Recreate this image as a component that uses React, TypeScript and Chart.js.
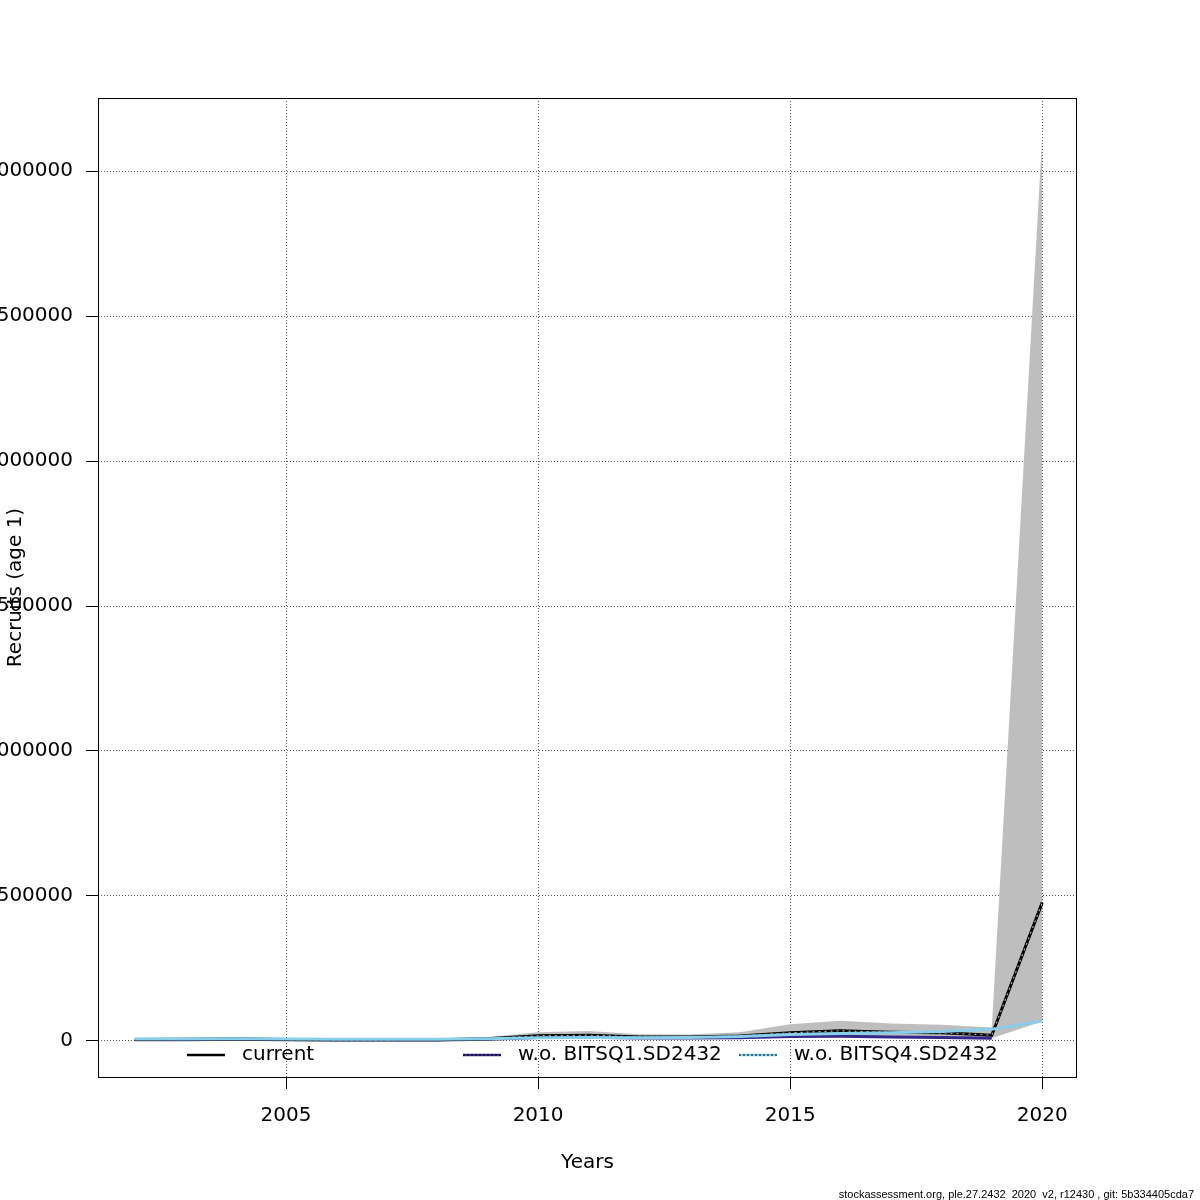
import React, { useEffect, useRef } from "react";
import { Chart, registerables } from "chart.js";

Chart.register(...registerables);

const years = [2002, 2003, 2004, 2005, 2006, 2007, 2008, 2009, 2010, 2011, 2012, 2013, 2014, 2015, 2016, 2017, 2018, 2019, 2020];
const current = [5000, 5500, 7000, 5000, 4000, 4000, 4500, 8000, 18000, 20000, 14000, 14000, 17000, 28000, 35000, 30000, 28000, 20000, 477000];
const lower = [3000, 3200, 3500, 3000, 2500, 2500, 2800, 4500, 10000, 11000, 8000, 8000, 9000, 13000, 16000, 14000, 13000, 9000, 67000];
const upper = [8000, 9000, 14000, 9000, 7000, 7000, 8000, 14000, 30000, 34000, 23000, 22000, 30000, 58000, 70000, 60000, 56000, 46000, 3120000];
const woBITSQ1 = [4000, 4500, 5500, 4000, 3500, 3500, 3500, 6000, 12000, 13000, 10000, 10000, 11000, 15000, 16000, 14000, 12000, 9000, null];
const woBITSQ4 = [7000, 7000, 8000, 7000, 6000, 6000, 6000, 8000, 11000, 12000, 11000, 12000, 15000, 22000, 26000, 28000, 33000, 40000, 69000];
const xTicks = [2005, 2010, 2015, 2020];
const yTicks = [0, 500000, 1000000, 1500000, 2000000, 2500000, 3000000];
const legendLabels = ["current", "w.o. BITSQ1.SD2432", "w.o. BITSQ4.SD2432"];
const footer = "stockassessment.org, ple.27.2432  2020  v2, r12430 , git: 5b334405cda7";

const FONT = "'DejaVu Sans', sans-serif";
const FS = 20;
const DARKBLUE = "#34288a";
const LIGHTBLUE = "#87ceeb";

const pts = (vals: (number | null)[]) => years.map((y, i) => ({ x: y, y: vals[i] }));

const extrasPlugin = {
  id: "extras",
  afterDraw(chart: any) {
    const ctx = chart.ctx;
    const ca = chart.chartArea;
    ctx.save();
    // frame
    ctx.strokeStyle = "#000";
    ctx.lineWidth = 1;
    ctx.setLineDash([]);
    ctx.strokeRect(ca.left + 0.5, ca.top + 0.5, ca.right - ca.left - 1, ca.bottom - ca.top);
    // titles
    ctx.fillStyle = "#000";
    ctx.font = `${FS}px ${FONT}`;
    ctx.textAlign = "center";
    ctx.textBaseline = "middle";
    ctx.fillText("Years", (ca.left + ca.right) / 2, 1163);
    ctx.save();
    ctx.translate(16, (ca.top + ca.bottom) / 2);
    ctx.rotate(-Math.PI / 2);
    ctx.fillText("Recruits (age 1)", 0, 0);
    ctx.restore();
    // legend
    const ly = 1055;
    const entries = [
      { x0: 187, tx: 242, color: "#000", dotted: false },
      { x0: 463, tx: 518, color: DARKBLUE, dotted: true },
      { x0: 739, tx: 794, color: LIGHTBLUE, dotted: true },
    ];
    entries.forEach((e, i) => {
      ctx.setLineDash([]);
      ctx.strokeStyle = e.color;
      ctx.lineWidth = 2.5;
      ctx.beginPath();
      ctx.moveTo(e.x0, ly);
      ctx.lineTo(e.x0 + 38, ly);
      ctx.stroke();
      if (e.dotted) {
        ctx.strokeStyle = "#000";
        ctx.lineWidth = 1;
        ctx.setLineDash([2, 2]);
        ctx.beginPath();
        ctx.moveTo(e.x0, ly);
        ctx.lineTo(e.x0 + 38, ly);
        ctx.stroke();
        ctx.setLineDash([]);
      }
      ctx.fillStyle = "#000";
      ctx.textAlign = "left";
      ctx.textBaseline = "middle";
      ctx.font = `${FS}px ${FONT}`;
      ctx.fillText(legendLabels[i], e.tx, ly);
    });
    // footer
    ctx.font = "11px 'Liberation Sans', Arial, sans-serif";
    ctx.textAlign = "right";
    ctx.textBaseline = "alphabetic";
    ctx.fillText(footer, 1194, 1198);
    ctx.restore();
  },
};

export default function App() {
  const ref = useRef<HTMLCanvasElement>(null);
  useEffect(() => {
    const prevMargin = document.body.style.margin;
    document.body.style.margin = "0";
    const chart = new Chart(ref.current as HTMLCanvasElement, {
      type: "line",
      data: {
        datasets: [
          {
            label: "upper",
            data: pts(upper),
            borderWidth: 0,
            borderColor: "rgba(0,0,0,0)",
            backgroundColor: "#bebebe",
            pointRadius: 0,
            fill: "+1",
            order: 10,
          },
          {
            label: "lower",
            data: pts(lower),
            borderWidth: 0,
            borderColor: "rgba(0,0,0,0)",
            pointRadius: 0,
            fill: false,
            order: 10,
          },
          {
            label: legendLabels[1],
            data: pts(woBITSQ1),
            borderColor: DARKBLUE,
            borderWidth: 3,
            pointRadius: 0,
            fill: false,
            order: 5,
          },
          {
            label: legendLabels[0],
            data: pts(current),
            borderColor: "#000",
            borderWidth: 3,
            pointRadius: 0,
            fill: false,
            order: 3,
          },
          {
            label: "current-overlay",
            data: pts(current),
            borderColor: "#b0b0b0",
            borderWidth: 1.2,
            borderDash: [2, 4],
            pointRadius: 0,
            fill: false,
            order: 2,
          },
          {
            label: legendLabels[2],
            data: pts(woBITSQ4),
            borderColor: LIGHTBLUE,
            borderWidth: 3,
            pointRadius: 0,
            fill: false,
            order: 1,
          },
        ],
      },
      options: {
        animation: false,
        responsive: false,
        maintainAspectRatio: false,
        layout: { padding: { top: 98, right: 123, left: 0, bottom: 0 } },
        plugins: { legend: { display: false }, tooltip: { enabled: false }, filler: { propagate: false } },
        elements: { line: { tension: 0 } },
        scales: {
          x: {
            type: "linear",
            min: 2001.27,
            max: 2020.69,
            afterBuildTicks: (s: any) => {
              s.ticks = xTicks.map((v) => ({ value: v }));
            },
            afterFit: (s: any) => {
              s.height = 123;
            },
            grid: {
              color: "#555",
              lineWidth: 1,
              tickLength: 12,
              tickColor: "#000",
              tickBorderDash: [],
              drawOnChartArea: true,
            },
            border: { display: false, dash: [1, 2] },
            ticks: {
              color: "#000",
              font: { family: FONT, size: FS },
              padding: 15,
              maxRotation: 0,
              callback: (v: any) => String(v),
            },
          },
          y: {
            type: "linear",
            min: -124280,
            max: 3252000,
            afterBuildTicks: (s: any) => {
              s.ticks = yTicks.map((v) => ({ value: v }));
            },
            afterFit: (s: any) => {
              s.width = 98;
            },
            grid: {
              color: "#555",
              lineWidth: 1,
              tickLength: 12,
              tickColor: "#000",
              tickBorderDash: [],
            },
            border: { display: false, dash: [1, 2] },
            ticks: {
              color: "#000",
              font: { family: FONT, size: FS },
              padding: 13,
              callback: (v: any) => String(v),
            },
          },
        },
      },
      plugins: [extrasPlugin],
    });
    return () => {
      chart.destroy();
      document.body.style.margin = prevMargin;
    };
  }, []);
  return (
    <div style={{ position: "absolute", left: 0, top: 0, width: 1200, height: 1200, background: "#fff" }}>
      <canvas ref={ref} width={1200} height={1200} style={{ width: 1200, height: 1200, display: "block" }} />
    </div>
  );
}
